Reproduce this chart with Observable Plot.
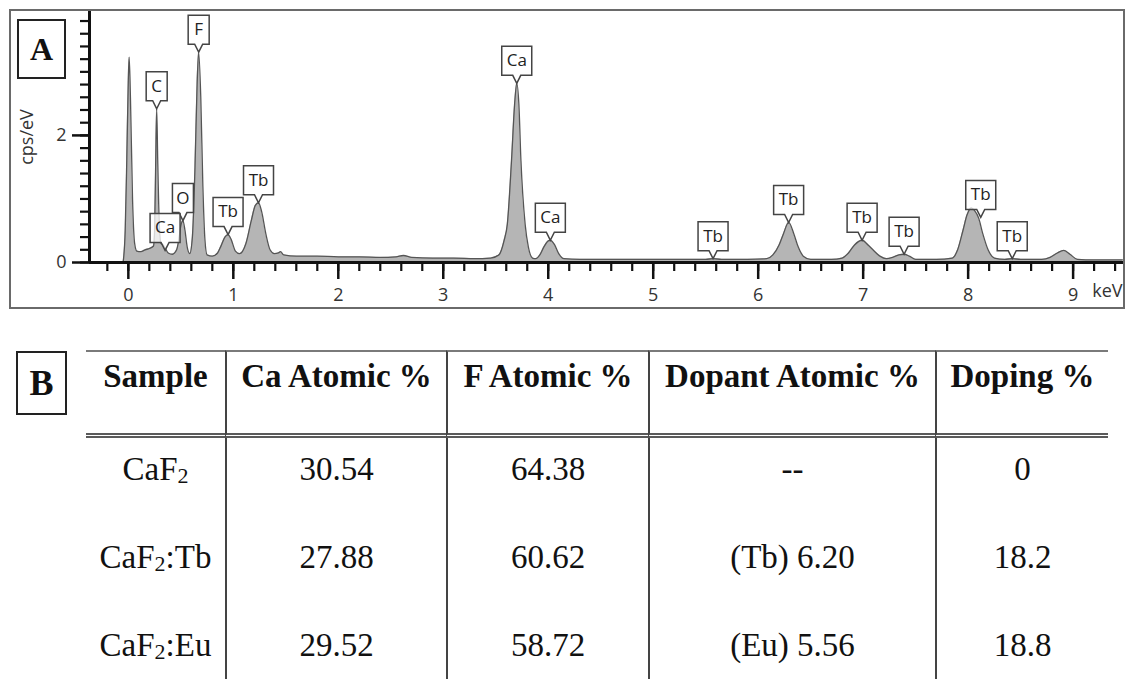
<!DOCTYPE html>
<html><head><meta charset="utf-8">
<script src="https://cdn.jsdelivr.net/npm/d3@7"></script>
<script src="https://cdn.jsdelivr.net/npm/@observablehq/plot@0.6"></script>
<style>
html,body{margin:0;padding:0;background:#fff;}
body{width:1127px;height:679px;overflow:hidden;position:relative;}
#frameA{position:absolute;left:9px;top:9px;width:1116px;height:300px;border:2px solid #6a6a6a;box-sizing:border-box;}
#panelA{position:absolute;left:0;top:0;width:1127px;}
.tag{position:absolute;border:2px solid #222;box-sizing:border-box;font-family:"Liberation Serif",serif;font-weight:bold;display:flex;align-items:center;justify-content:center;background:#fff;color:#111;}
#tagA{left:17px;top:19px;width:49px;height:60px;font-size:32px;}
#tagB{left:16px;top:351px;width:51px;height:64px;font-size:36px;}
#tableB{position:absolute;left:86px;top:350px;display:grid;grid-template-columns:139px 221px 202px 287px 173px;font-family:"Liberation Serif",serif;font-size:33px;line-height:40px;color:#111;}
#tableB div{box-sizing:border-box;height:88px;text-align:center;white-space:nowrap;}
#tableB .h{font-weight:bold;border-top:2px solid #7a7a7a;border-bottom:5px double #5a5a5a;padding-top:4px;}
#tableB .b{padding-top:11px;}
#tableB .sep{border-left:2px solid #444;}
#tableB sub{font-size:22px;vertical-align:-3px;line-height:0;}
</style>
</head><body>
<div id="frameA"></div>
<div id="panelA"></div>
<div class="tag" id="tagA">A</div>
<div class="tag" id="tagB">B</div>
<div id="tableB"></div>
<script>
// ---------- Panel A data (EDS spectrum) ----------
const spectrumKeV = [-0.05,-0.03,-0.015,0.0,0.008,0.02,0.04,0.06,0.08,0.12,0.16,0.2,0.24,
  0.25,0.26,0.27,0.28,0.295,0.31,0.33,0.36,0.38,0.42,0.46,
  0.48,0.5,0.52,0.54,0.56,0.585,
  0.61,0.635,0.655,0.67,0.69,0.71,0.73,0.75,0.8,0.85,
  0.88,0.92,0.95,0.98,1.02,1.06,
  1.12,1.17,1.21,1.24,1.27,1.31,1.35,1.39,1.43,1.45,1.48,1.6,1.8,2.0,2.2,2.4,2.55,2.62,2.7,2.9,3.1,3.3,3.45,
  3.53,3.58,3.61,3.65,3.68,3.70,3.72,3.74,3.78,3.81,3.85,3.88,
  3.92,3.96,4.0,4.02,4.06,4.1,4.15,4.3,4.6,5.0,5.3,5.5,5.57,5.65,5.9,6.08,
  6.14,6.2,6.24,6.29,6.34,6.38,6.43,6.5,6.7,6.8,
  6.86,6.92,6.99,7.05,7.1,7.16,7.22,
  7.28,7.34,7.39,7.44,7.5,7.7,7.85,
  7.9,7.95,7.99,8.03,8.06,8.1,8.14,8.19,8.25,8.35,8.42,8.5,8.7,
  8.78,8.85,8.91,8.97,9.04,9.2,9.47];
const spectrumCps = [0.0,0.5,1.6,2.9,3.23,2.6,1.0,0.3,0.18,0.17,0.2,0.22,0.26,
  0.5,1.5,2.42,1.6,0.6,0.3,0.28,0.2,0.15,0.13,0.2,
  0.35,0.58,0.66,0.5,0.25,0.14,
  0.4,1.5,2.8,3.31,2.6,1.2,0.35,0.12,0.1,0.15,
  0.25,0.4,0.44,0.36,0.18,0.14,
  0.3,0.65,0.9,0.94,0.8,0.45,0.2,0.14,0.15,0.17,0.12,0.1,0.1,0.09,0.09,0.08,0.09,0.11,0.08,0.07,0.07,0.06,0.07,
  0.12,0.35,0.6,1.6,2.5,2.82,2.5,1.6,0.6,0.25,0.07,0.06,
  0.12,0.25,0.34,0.35,0.28,0.14,0.06,0.05,0.05,0.05,0.05,0.05,0.06,0.05,0.05,0.06,
  0.12,0.28,0.45,0.63,0.45,0.25,0.1,0.05,0.05,0.07,
  0.15,0.28,0.35,0.27,0.19,0.1,0.06,
  0.08,0.12,0.13,0.1,0.05,0.05,0.07,
  0.2,0.5,0.75,0.86,0.82,0.7,0.45,0.2,0.07,0.05,0.06,0.05,0.05,
  0.08,0.15,0.19,0.13,0.05,0.04,0.04];

const peakElement = ["C","F","O","Ca","Tb","Tb","Ca","Ca","Tb","Tb","Tb","Tb","Tb","Tb"];
const peakKeV     = [0.27,0.67,0.52,0.35,0.95,1.24,3.70,4.02,5.57,6.29,6.99,7.39,8.12,8.42];
const peakCps     = [2.42,3.31,0.66,0.19,0.44,0.94,2.82,0.35,0.06,0.63,0.35,0.13,0.71,0.06];

const xDomain = [-0.37, 9.48];
const yDomain = [0, 3.95];
const xTickValues = [0,1,2,3,4,5,6,7,8,9];
const yTickValues = [0,2];
const xAxisLabel = "keV";
const yAxisLabel = "cps/eV";

// ---------- Panel B data (table) ----------
const tableHeaders = ["Sample","Ca Atomic %","F Atomic %","Dopant Atomic %","Doping %"];
const sampleNames  = ["CaF2","CaF2:Tb","CaF2:Eu"];
const caAtomic     = ["30.54","27.88","29.52"];
const fAtomic      = ["64.38","60.62","58.72"];
const dopantAtomic = ["--","(Tb) 6.20","(Eu) 5.56"];
const dopingPct    = ["0","18.2","18.8"];

// ---------- build ----------
const spectrum = spectrumKeV.map((e, i) => ({keV: e, cps: spectrumCps[i]}));
const peaks = peakElement.map((el, i) => ({el, keV: peakKeV[i], cps: peakCps[i]}));
const xMinor = d3.range(-1, 48).map(i => +(i * 0.2).toFixed(1));
const yMinor = d3.range(0, 20).map(i => +(i * 0.2).toFixed(1));

function callout(half) {
  return {draw(ctx) {
    ctx.moveTo(0, 0); ctx.lineTo(4, -8); ctx.lineTo(half, -8); ctx.lineTo(half, -37);
    ctx.lineTo(-half, -37); ctx.lineTo(-half, -8); ctx.lineTo(-4, -8); ctx.closePath();
  }};
}
const tickColor = "#111";
const fs = 18;
const chart = Plot.plot({
  width: 1127, height: 310,
  marginLeft: 89, marginRight: 4, marginTop: 11, marginBottom: 48,
  x: {domain: xDomain},
  y: {domain: yDomain},
  style: {fontFamily: "'Open Sans', 'Noto Sans', sans-serif", fontSize: "18px", color: "#333", background: "transparent", overflow: "visible"},
  marks: [
    Plot.areaY(spectrum, {x: "keV", y: "cps", fill: "#b5b5b5", curve: "monotone-x"}),
    Plot.lineY(spectrum, {x: "keV", y: "cps", stroke: "#555", strokeWidth: 1.3, curve: "monotone-x"}),
    Plot.axisX(xMinor, {tickSize: 9, tickFormat: () => "", stroke: tickColor, strokeWidth: 2.2, label: null}),
    Plot.axisX(xTickValues, {tickSize: 17, tickPadding: 9, tickFormat: d => String(d), stroke: tickColor, strokeWidth: 2.5, fill: "#333", fontSize: fs, label: null}),
    Plot.axisY(yMinor, {tickSize: 9, tickFormat: () => "", stroke: tickColor, strokeWidth: 2.2, label: null}),
    Plot.axisY(yTickValues, {tickSize: 17, tickPadding: 6, tickFormat: d => String(d), stroke: tickColor, strokeWidth: 2.5, fill: "#333", fontSize: fs, label: null}),
    Plot.ruleY([0], {stroke: tickColor, strokeWidth: 3}),
    Plot.ruleX([xDomain[0]], {stroke: tickColor, strokeWidth: 3}),
    Plot.text([xAxisLabel], {frameAnchor: "bottom-right", dy: 34, dx: -1, textAnchor: "end", fill: "#333", fontSize: fs}),
    Plot.text([yAxisLabel], {frameAnchor: "left", dx: -62, rotate: -90, textAnchor: "middle", fill: "#333", fontSize: fs}),
    Plot.dot(peaks.filter(d => d.el.length === 1), {x: "keV", y: "cps", symbol: callout(10.5), fill: "white", fillOpacity: 0.75, stroke: "#444", strokeWidth: 1.5}),
    Plot.dot(peaks.filter(d => d.el.length > 1), {x: "keV", y: "cps", symbol: callout(15), fill: "white", fillOpacity: 0.75, stroke: "#444", strokeWidth: 1.5}),
    Plot.text(peaks, {x: "keV", y: "cps", text: "el", dy: -22.5, fill: "#222", fontSize: 17})
  ]
});
document.getElementById("panelA").appendChild(chart);

// table
const tb = document.getElementById("tableB");
const fmtSample = s => s.replace("CaF2", "CaF<sub>2</sub>");
tableHeaders.forEach((h, j) => {
  const c = document.createElement("div");
  c.className = "h" + (j > 0 ? " sep" : "");
  c.textContent = h;
  tb.appendChild(c);
});
sampleNames.forEach((s, i) => {
  const row = [fmtSample(s), caAtomic[i], fAtomic[i], dopantAtomic[i], dopingPct[i]];
  row.forEach((v, j) => {
    const c = document.createElement("div");
    c.className = "b" + (j > 0 ? " sep" : "");
    c.innerHTML = v;
    tb.appendChild(c);
  });
});
</script>
</body></html>
